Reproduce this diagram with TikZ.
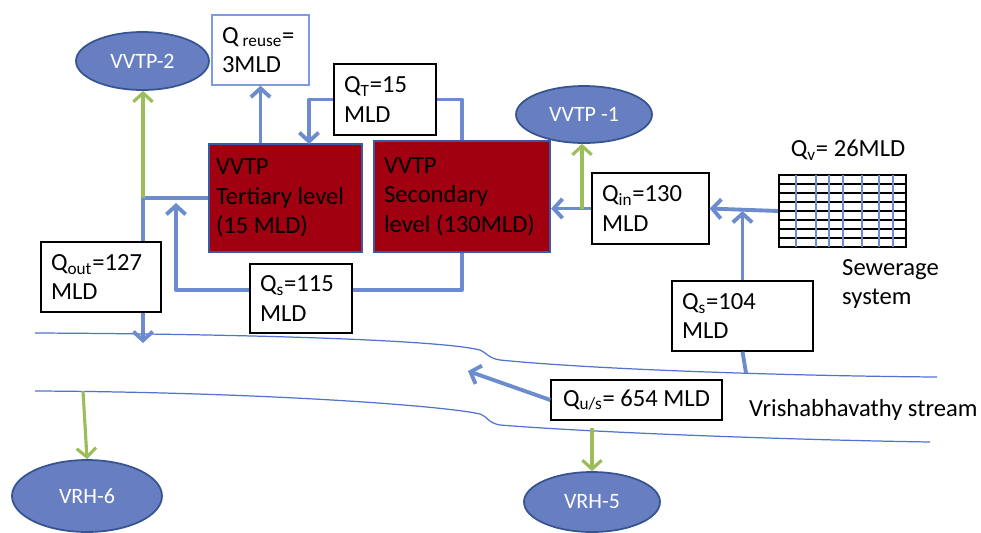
\documentclass[tikz,border=0pt]{standalone}
\usepackage{fontspec}
\setmainfont{Carlito}
\usetikzlibrary{shapes.geometric,arrows.meta}

\definecolor{flowblue}{RGB}{108,140,206}
\definecolor{feedgreen}{RGB}{155,190,90}
\definecolor{sitefill}{RGB}{103,126,193}
\definecolor{siteedge}{RGB}{55,84,146}
\definecolor{plantred}{RGB}{160,0,15}
\definecolor{plantedge}{RGB}{62,88,160}
\definecolor{riverblue}{RGB}{80,115,205}
\definecolor{reuseedge}{RGB}{125,155,222}

\newcommand{\boxfont}{\fontsize{14}{16.8}\selectfont}
\newcommand{\sitefont}{\fontsize{12.5}{15}\selectfont}

\tikzset{
	qbox/.style={draw=black, line width=0.8pt, fill=white, align=flush left, inner xsep=0.2cm, inner ysep=0pt, font=\boxfont},
	plant/.style={draw=plantedge, fill=plantred, line width=1.3pt, align=flush left, inner ysep=0pt, font=\boxfont},
	site/.style={ellipse, draw=siteedge, fill=sitefill, line width=1pt, inner sep=0pt, text=white, font=\sitefont},
	flow/.style={flowblue, line width=2.2pt, line join=round},
	feed/.style={feedgreen, line width=1.8pt},
	barb/.style={-{Straight Barb[length=5pt,width=11pt]}},
	river/.style={riverblue, line width=0.7pt},
}

\begin{document}
\begin{tikzpicture}[x=0.02cm, y=-0.02cm]
			\useasboundingbox (0,0) rectangle (981,532);
			
			% stream banks
			\draw[river] (35,333) .. controls (250,334) and (440,340) .. (480,350) .. controls (487,353) and (488,358) .. (500,360) .. controls (600,370) and (800,376) .. (937,377);
			\draw[river] (35,391) .. controls (250,392) and (440,405) .. (480,414) .. controls (487,416) and (488,423) .. (500,425) .. controls (600,433) and (800,440) .. (930,442);
			\node[anchor=west, font=\boxfont] (stream) at (743,410){Vrishabhavathy stream};
			
			% plants and sites
			\node[plant, text width=2.78cm, inner xsep=0.14cm, minimum height=2.16cm] (tert) at (285.5,198){VVTP\\Tertiary level\\(15 MLD)};
			\node[plant, text width=3.12cm, inner xsep=0.2cm, minimum height=2.22cm] (sec) at (462,196.5){VVTP\\Secondary\\level (130MLD)};
			\node[site, minimum width=2.66cm, minimum height=1.16cm] (vvtp2) at (142.5,61){VVTP-2};
			\node[site, minimum width=2.72cm, minimum height=1.14cm] (vvtp1) at (584,114.5){VVTP -1};
			\node[site, minimum width=3cm, minimum height=1.44cm] (vrh6) at (87,496){VRH-6};
			\node[site, minimum width=2.72cm, minimum height=1.2cm] (vrh5) at (592,502){VRH-5};
			
			% flow boxes
			\node[qbox, draw=reuseedge, text width=1.54cm, minimum height=1.4cm] (qreuse) at (260.5,50){Q\,\textsubscript{reuse}=\\3MLD};
			\node[qbox, text width=1.64cm, minimum height=1.42cm] (qT) at (385,99.5){Q\textsubscript{T}=15\\MLD};
			\node[qbox, text width=1.94cm, minimum height=1.42cm] (qin) at (650.5,208.5){Q\textsubscript{in}=130\\MLD};
			\node[qbox, text width=2.42cm, minimum height=1.4cm] (qs104) at (742.5,316){Q\textsubscript{s}=104\\MLD};
			\node[qbox, text width=2cm, minimum height=1.4cm] (qout) at (101,277){Q\textsubscript{out}=127\\MLD};
			\node[qbox, text width=1.64cm, minimum height=1.38cm] (qs115) at (301,298.5){Q\textsubscript{s}=115\\MLD};
			\node[qbox, inner xsep=0.1cm, minimum width=3.42cm, minimum height=0.8cm] (qus) at (636.5,400){Q\textsubscript{u/s}= 654 MLD};
			
			% sewerage grid
			\node[draw, line width=1.3pt, minimum width=2.54cm, minimum height=1.44cm, inner sep=0pt] (sewer) at (842.5,211){};
			\foreach \y in {184,193,...,238}
				\draw[line width=0.8pt] (779,\y) -- (906,\y);
			\foreach \x in {796,816,829,843,862,879,893}
				\draw[flowblue, line width=0.8pt] (\x,175) -- (\x,247);
			\node[font=\boxfont] (qv) at (848,150){Q\textsubscript{v}= 26MLD};
			\node[anchor=west, align=flush left, font=\boxfont] (sewlabel) at (836,284){Sewerage\\system};
			
			% junction points
			\coordinate (jout) at (143,198);
			\coordinate (jin) at (582,208.5);
			\coordinate (outfall) at (143,343);
			\coordinate (ls) at (462,290);
			\coordinate (lsw) at (176,290);
			\coordinate (lstip) at (176,203);
			\coordinate (qtt) at (309,144);
			\coordinate (sink) at (746,373);
			\coordinate (upstream) at (468,371);
			\coordinate (take5) at (592,428);
			\coordinate (take6) at (83,391);
			
			% connectors
			\draw[flow, barb] (qin.west) -- (qin.west -| sec.east);
			\draw[flow, barb] (sewer.west) -- (qin.east);
			\draw[flow, barb] (qs104.north) -- (qs104.north |- sewer.west);
			\draw[flow] (qs104.south) -- (sink);
			\draw[flow, barb] (qus.west) -- (upstream);
			\draw[flow, barb] (qreuse.south |- tert.north) -- (qreuse.south);
			\draw[flow] (sec.north) |- (qT.east);
			\draw[flow, barb] (qT.west) -| (qtt);
			\draw[flow] (sec.south) -- (ls) -- (ls -| qs115.east);
			\draw[flow, barb] (ls -| qs115.west) -- (lsw) -- (lstip);
			\draw[flow] (tert.west) -- (jout) -- (jout |- qout.north);
			\draw[flow, barb] (jout |- qout.south) -- (outfall);
			
			\draw[feed, barb] (jin) -- (jin |- vvtp1.south);
			\draw[feed, barb] (jout) -- (jout |- vvtp2.south);
			\draw[feed, barb] (take5) -- (vrh5.north);
			\draw[feed, barb] (take6) -- (vrh6.north);
			
		\end{tikzpicture}
\end{document}
